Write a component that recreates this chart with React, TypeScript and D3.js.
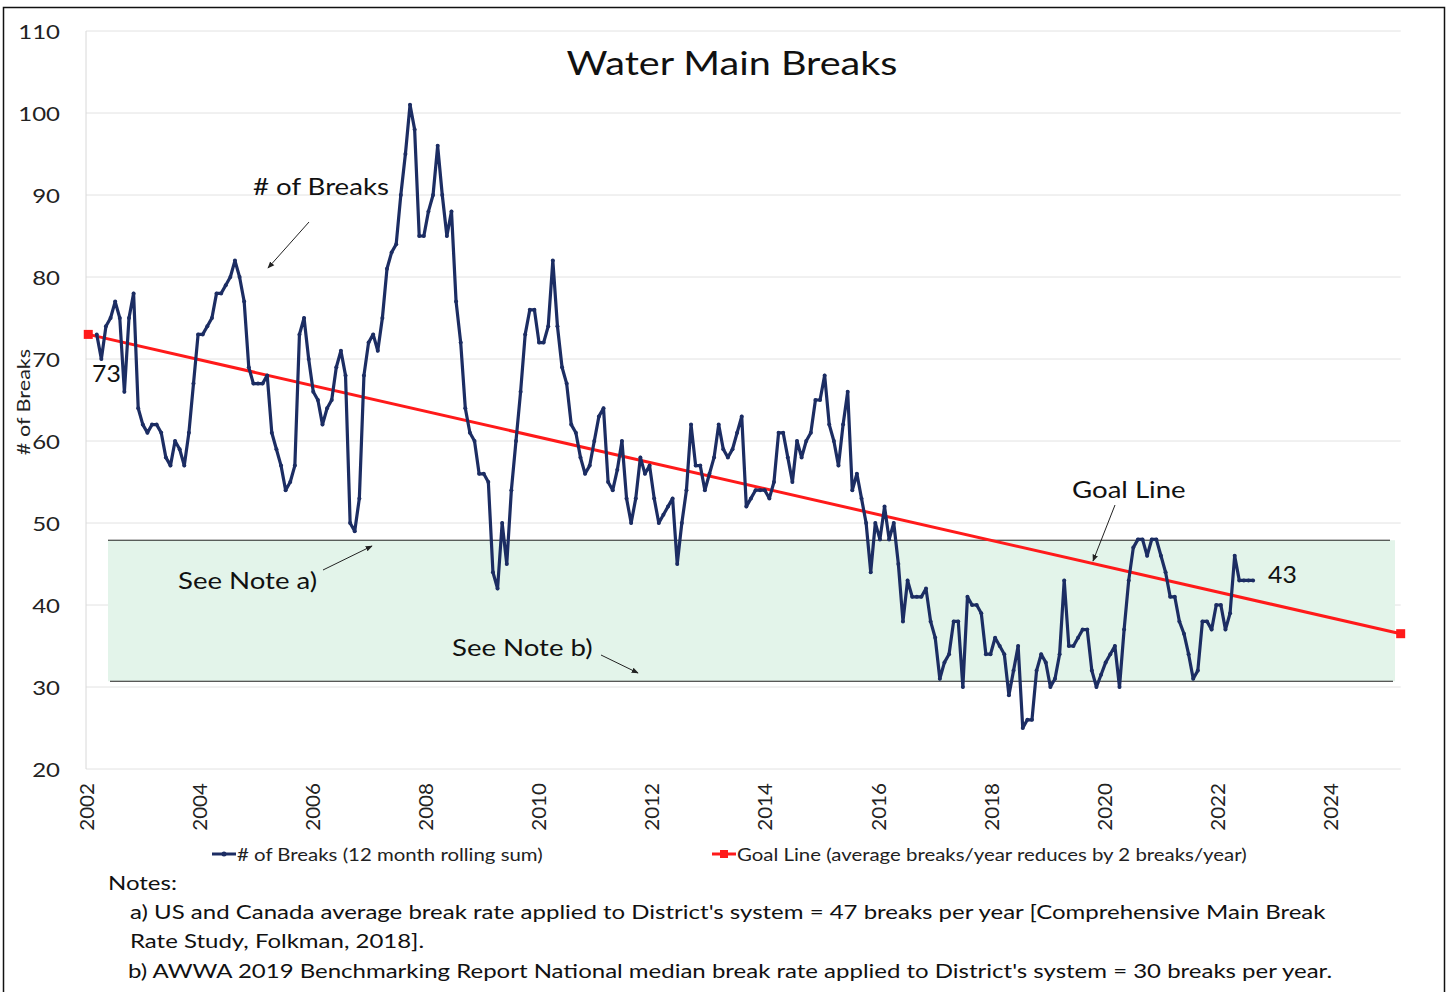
import React from 'react';
import * as d3 from 'd3';

const W = 1449;
const H = 992;

const yTicks = [20, 30, 40, 50, 60, 70, 80, 90, 100, 110];
const xTicks = [2002, 2004, 2006, 2008, 2010, 2012, 2014, 2016, 2018, 2020, 2022, 2024];

// 12 month rolling sum of breaks, monthly from early 2002 to late 2022
const breaks = [
  73, 70, 74, 75, 77, 75, 66, 75, 78, 64, 62, 61, 62, 62, 61, 58, 57, 60, 59, 57, 61, 67, 73, 73, 74, 75, 78, 78, 79, 80,
  82, 80, 77, 69, 67, 67, 67, 68, 61, 59, 57, 54, 55, 57, 73, 75, 70, 66, 65, 62, 64, 65, 69, 71, 68, 50, 49, 53, 68,
  72, 73, 71, 75, 81, 83, 84, 90, 95, 101, 98, 85, 85, 88, 90, 96, 90, 85, 88, 77, 72, 64, 61, 60, 56, 56, 55, 44, 42, 50, 45,
  54, 60, 66, 73, 76, 76, 72, 72, 74, 82, 74, 69, 67, 62, 61, 58, 56, 57, 60, 63, 64, 55, 54, 56.5, 60, 53, 50, 53, 58, 56,
  57, 53, 50, 51, 52, 53, 45, 50, 54, 62, 57, 57, 54, 56, 58, 62, 59, 58, 59, 61, 63, 52, 53, 54, 54, 54, 53, 55, 61, 61, 58, 55, 60,
  58, 60, 61, 65, 65, 68, 62, 60, 57, 62, 66, 54, 56, 53, 50, 44, 50, 48, 52, 48, 50, 45, 38, 43, 41, 41, 41, 42, 38,
  36, 31, 33, 34, 38, 38, 30, 41, 40, 40, 39, 34, 34, 36, 35, 34, 29, 32, 35, 25, 26, 26, 32, 34, 33, 30, 31, 34, 43, 35, 35, 36, 37, 37,
  32, 30, 31.5, 33, 34, 35, 30, 37, 43, 47, 48, 48, 46, 48, 48, 46, 44, 41, 41, 38, 36.5, 34, 31, 32, 38, 38, 37, 40, 40, 37, 39, 46, 43, 43, 43, 43,
];
const seriesStart = 2002.19;
const seriesEnd = 2022.64;

const goalYears = [2002.04, 2025.25];
const goalValues = [73, 36.5];

const bandTop = 47.9;
const bandBottom = 30.7;

const FONT = "Lato, 'Open Sans', 'Noto Sans', sans-serif";
const NAVY = '#1c2d63';
const RED = '#ff1a1a';
const SX = 1.2;

type TProps = {
  x: number;
  y: number;
  size: number;
  anchor?: 'start' | 'middle' | 'end';
  rotate?: number;
  sx?: number;
  fill?: string;
  children: React.ReactNode;
};

function T({ x, y, size, anchor = 'start', rotate = 0, sx = SX, fill = '#111', children }: TProps) {
  return (
    <text
      transform={`translate(${x},${y}) rotate(${rotate}) scale(${sx},1)`}
      textAnchor={anchor}
      dominantBaseline="central"
      fontSize={size}
      fill={fill}
    >
      {children}
    </text>
  );
}

export default function App() {
  const x = d3.scaleLinear().domain([2002, 2024]).range([86, 1330]);
  const y = d3.scaleLinear().domain([20, 110]).range([769, 31]);
  const n = breaks.length;
  const dates = breaks.map((_, i) => seriesStart + ((seriesEnd - seriesStart) * i) / (n - 1));
  const pts: [number, number][] = breaks.map((v, i) => [x(dates[i]), y(v)]);
  const linePath = d3.line()(pts) || '';
  const goalPts: [number, number][] = goalYears.map((g, i) => [x(g), y(goalValues[i])]);
  const goalPath = d3.line()(goalPts) || '';
  const plotRight = x(2025.25);

  return (
    <svg
      width={W}
      height={H}
      style={{ position: 'absolute', left: 0, top: 0, background: '#fff' }}
      fontFamily={FONT}
    >
      <defs>
        <marker id="arr" viewBox="0 0 10 10" refX="9" refY="5" markerWidth="7" markerHeight="7" orient="auto-start-reverse">
          <path d="M0,1 L10,5 L0,9 z" fill="#222" />
        </marker>
      </defs>
      <rect x={0} y={0} width={W} height={H} fill="#fff" />
      <rect x={3.5} y={7.5} width={1441} height={1000} fill="none" stroke="#111" strokeWidth={1.5} />

      {/* gridlines */}
      {yTicks.map((t) => (
        <line key={t} x1={x(2002)} x2={plotRight} y1={y(t)} y2={y(t)} stroke="#e2e2e2" strokeWidth={1} />
      ))}
      <line x1={x(2002)} x2={x(2002)} y1={y(110)} y2={y(20)} stroke="#d8d8d8" strokeWidth={1} />

      {/* band */}
      <rect x={108} y={y(bandTop)} width={1395 - 108} height={y(bandBottom) - y(bandTop)} fill="#e3f4ea" />
      <line x1={108} x2={1390} y1={y(bandTop)} y2={y(bandTop)} stroke="#222" strokeWidth={1} />
      <line x1={110} x2={1393} y1={y(bandBottom)} y2={y(bandBottom)} stroke="#222" strokeWidth={1} />

      {/* y tick labels */}
      {yTicks.map((t) => (
        <T key={t} x={60} y={y(t)} anchor="end" size={20} fill="#222">
          {t}
        </T>
      ))}
      <T x={23} y={402} anchor="middle" rotate={-90} size={18} fill="#222">
        # of Breaks
      </T>

      {/* x tick labels */}
      {xTicks.map((t) => (
        <T key={t} x={x(t)} y={783} anchor="end" rotate={-90} size={20} sx={1.03} fill="#222">
          {t}
        </T>
      ))}

      {/* goal line */}
      <path d={goalPath} fill="none" stroke={RED} strokeWidth={3} />
      {goalPts.map((p, i) => (
        <rect key={i} x={p[0] - 4.5} y={p[1] - 4.5} width={9} height={9} fill={RED} />
      ))}

      {/* breaks series */}
      <path d={linePath} fill="none" stroke={NAVY} strokeWidth={3.2} strokeLinejoin="round" />
      {pts.map((p, i) => (
        <circle key={i} cx={p[0]} cy={p[1]} r={2} fill={NAVY} />
      ))}

      {/* title */}
      <T x={732} y={62} anchor="middle" size={33}>
        Water Main Breaks
      </T>

      {/* annotations */}
      <T x={253} y={186} size={23}>
        # of Breaks
      </T>
      <line x1={309} x2={268} y1={222} y2={268} stroke="#222" strokeWidth={1} markerEnd="url(#arr)" />

      <T x={92} y={373} size={23} sx={1.08}>
        73
      </T>

      <T x={178} y={580} size={23}>
        See Note a)
      </T>
      <line x1={323} x2={372} y1={570} y2={546} stroke="#222" strokeWidth={1} markerEnd="url(#arr)" />

      <T x={452} y={647} size={23}>
        See Note b)
      </T>
      <line x1={601} x2={638} y1={655} y2={673} stroke="#222" strokeWidth={1} markerEnd="url(#arr)" />

      <T x={1072} y={489} size={23}>
        Goal Line
      </T>
      <line x1={1115} x2={1093} y1={505} y2={561} stroke="#222" strokeWidth={1} markerEnd="url(#arr)" />

      <T x={1268} y={574} size={23} sx={1.08}>
        43
      </T>

      {/* legend */}
      <line x1={212} x2={236} y1={854} y2={854} stroke={NAVY} strokeWidth={3} />
      <circle cx={224} cy={854} r={2.5} fill={NAVY} />
      <T x={237} y={854} size={17} fill="#222">
        # of Breaks (12 month rolling sum)
      </T>
      <line x1={712} x2={736} y1={854} y2={854} stroke={RED} strokeWidth={3} />
      <rect x={720} y={850} width={8} height={8} fill={RED} />
      <T x={737} y={854} size={17} fill="#222">
        Goal Line (average breaks/year reduces by 2 breaks/year)
      </T>

      {/* notes */}
      <T x={108} y={882} size={20}>
        Notes:
      </T>
      <T x={130} y={911} size={20}>
        a) US and Canada average break rate applied to District's system = 47 breaks per year [Comprehensive Main Break
      </T>
      <T x={130} y={940} size={20}>
        Rate Study, Folkman, 2018].
      </T>
      <T x={128} y={970} size={20}>
        b) AWWA 2019 Benchmarking Report National median break rate applied to District's system = 30 breaks per year.
      </T>
    </svg>
  );
}
